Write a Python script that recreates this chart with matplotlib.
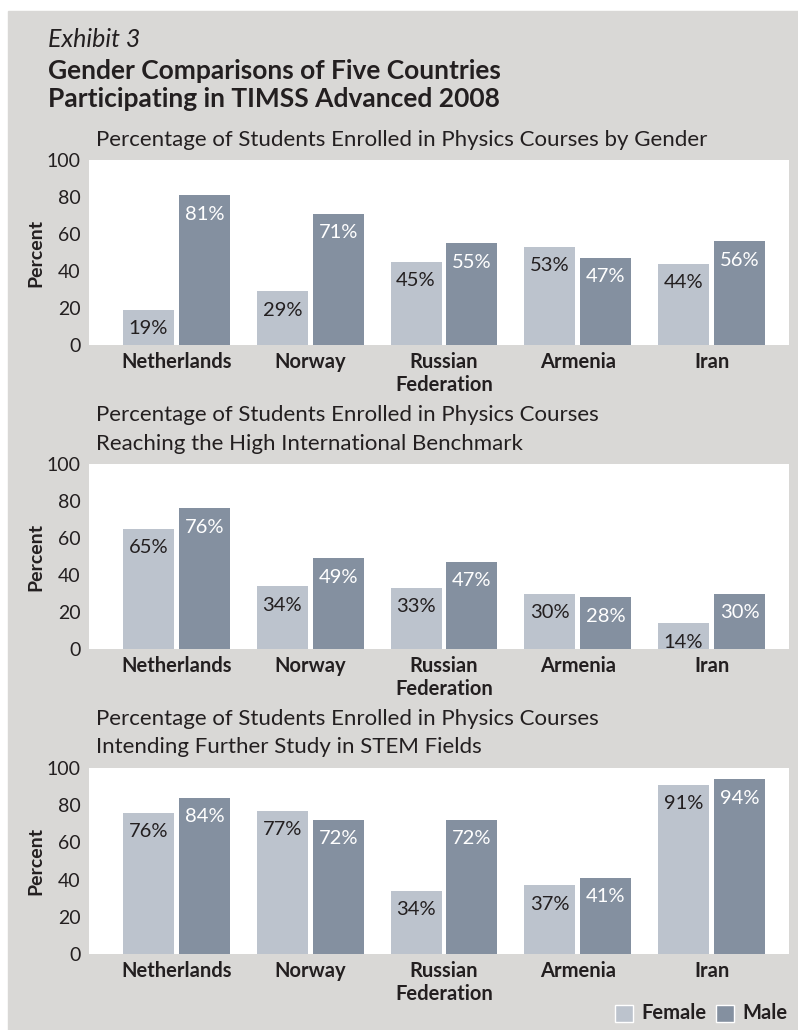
import matplotlib.pyplot as plt
from matplotlib.patches import Rectangle
import numpy as np

plt.rcParams["font.family"] = ["Lato", "DejaVu Sans"]

# Dados
paises = ["Netherlands", "Norway", "Russian\nFederation", "Armenia", "Iran"]
subtitulos = [
    ["Percentage of Students Enrolled in Physics Courses by Gender"],
    ["Percentage of Students Enrolled in Physics Courses",
     "Reaching the High International Benchmark"],
    ["Percentage of Students Enrolled in Physics Courses",
     "Intending Further Study in STEM Fields"],
]
feminino_matricula = [19, 29, 45, 53, 44]
masculino_matricula = [81, 71, 55, 47, 56]
feminino_benchmark = [65, 34, 33, 30, 14]
masculino_benchmark = [76, 49, 47, 28, 30]
feminino_stem = [76, 77, 34, 37, 91]
masculino_stem = [84, 72, 72, 41, 94]
yticks = [0, 20, 40, 60, 80, 100]

cor_fem = "#BCC3CD"
cor_masc = "#8490A0"
cor_fundo = "#D9D8D6"
cor_texto = "#231F20"

W, H = 798, 1030
fig = plt.figure(figsize=(W / 100, H / 100), dpi=100, facecolor="white")


def px(x, y):
    return x / W, 1 - y / H


# fundo cinza
fig.patches.append(Rectangle((8 / W, 0), 1 - 8 / W, 1 - 11 / H,
                             transform=fig.transFigure, color=cor_fundo, zorder=-5))

fig.text(*px(48, 47), "Exhibit 3", fontsize=18, style="italic", color=cor_texto, va="baseline")
fig.text(*px(48, 79), "Gender Comparisons of Five Countries",
         fontsize=19, fontweight="bold", color=cor_texto, va="baseline")
fig.text(*px(48, 107), "Participating in TIMSS Advanced 2008",
         fontsize=19, fontweight="bold", color=cor_texto, va="baseline")

paineis = [
    (160, 345, [146], feminino_matricula, masculino_matricula),
    (464, 649, [421, 450], feminino_benchmark, masculino_benchmark),
    (768, 954, [725, 753], feminino_stem, masculino_stem),
]

x = np.arange(len(paises))
largura = 0.381
desloc = 0.209

for i, (topo, base, ys_sub, fem, masc) in enumerate(paineis):
    ax = fig.add_axes([89 / W, 1 - base / H, 700 / W, (base - topo) / H])
    ax.set_facecolor("white")
    b1 = ax.bar(x - desloc, fem, largura, color=cor_fem)
    b2 = ax.bar(x + desloc, masc, largura, color=cor_masc)
    for barra, v in zip(b1, fem):
        ax.annotate(f"{v}%", (barra.get_x() + barra.get_width() / 2, v),
                    xytext=(0, -7.5), textcoords="offset points", ha="center", va="top",
                    fontsize=14.5, color=cor_texto)
    for barra, v in zip(b2, masc):
        ax.annotate(f"{v}%", (barra.get_x() + barra.get_width() / 2, v),
                    xytext=(0, -7.5), textcoords="offset points", ha="center", va="top",
                    fontsize=14.5, color="white")
    ax.set_xlim(-0.654, 4.579)
    ax.set_ylim(0, 100)
    ax.set_yticks(yticks)
    ax.set_xticks(x)
    ax.set_xticklabels(paises, fontweight="bold", fontsize=14.5, color=cor_texto, linespacing=1.2)
    ax.tick_params(axis="both", length=0, labelsize=14, colors=cor_texto)
    ax.tick_params(axis="x", pad=5, labelsize=14.5)
    ax.tick_params(axis="y", pad=6)
    for s in ax.spines.values():
        s.set_visible(False)
    ax.set_ylabel("Percent", fontweight="bold", fontsize=14, color=cor_texto)
    ax.yaxis.set_label_coords(-0.064, 0.5)
    for linha, y_sub in zip(subtitulos[i], ys_sub):
        fig.text(*px(96, y_sub), linha, fontsize=16, color=cor_texto, va="baseline")

# legenda
fig.patches.append(Rectangle(px(615, 1022), 18 / W, 17 / H, transform=fig.transFigure,
                             facecolor=cor_fem, edgecolor="white", linewidth=1, zorder=2))
fig.patches.append(Rectangle(px(716, 1022), 18 / W, 17 / H, transform=fig.transFigure,
                             facecolor=cor_masc, edgecolor="white", linewidth=1, zorder=2))
fig.text(*px(641, 1019), "Female", fontsize=14.5, fontweight="bold", color=cor_texto, va="baseline")
fig.text(*px(742, 1019), "Male", fontsize=14.5, fontweight="bold", color=cor_texto, va="baseline")

fig.savefig("out.png", dpi=100, facecolor="white")
